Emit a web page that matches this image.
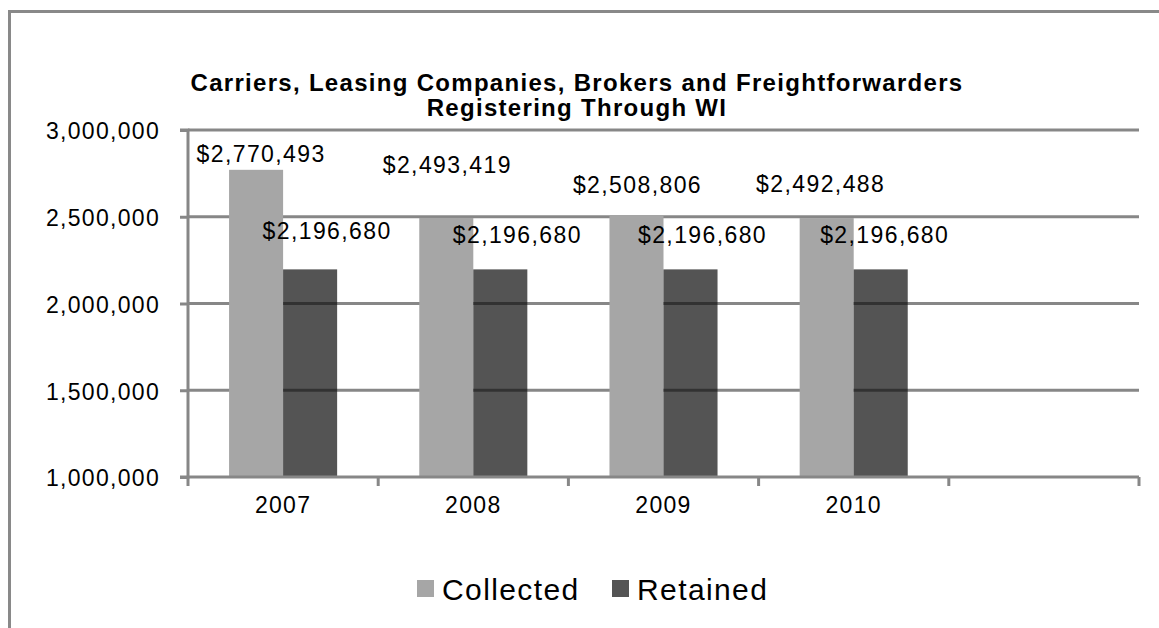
<!DOCTYPE html>
<html>
<head>
<meta charset="utf-8">
<script src="https://cdn.jsdelivr.net/npm/d3@7"></script>
<style>
  body { margin: 0; background: #fff; }
  svg { display: block; font-family: "Liberation Sans", Arial, sans-serif; }
</style>
</head>
<body>
<div id="chart"></div>
<script>
// Chart data
const categories = ["2007", "2008", "2009", "2010", ""];
const seriesNames = ["Collected", "Retained"];
const collected = [2770493, 2493419, 2508806, 2492488];
const retained = [2196680, 2196680, 2196680, 2196680];
const yTicks = [1000000, 1500000, 2000000, 2500000, 3000000];
const titleLines = [
  "Carriers, Leasing Companies, Brokers and Freightforwarders",
  "Registering Through WI",
];

// label nudges (layout only), relative to bar top center
const collectedNudge = [[5, -8], [1, -45], [1, -22], [-6, -26]];
const retainedNudge = [[17, -30], [17, -26], [12, -26], [4, -26]];

const width = 1159,
  height = 628;
const gridColor = "#878787";
const colors = { Collected: "#a6a6a6", Retained: "#121212" };
const opacity = { Collected: 1, Retained: 0.72 };

const svg = d3
  .select("#chart")
  .append("svg")
  .attr("width", width)
  .attr("height", height);

// outer frame (runs off the right and bottom edges)
svg
  .append("rect")
  .attr("x", 9.5)
  .attr("y", 11.5)
  .attr("width", 1300)
  .attr("height", 800)
  .attr("fill", "none")
  .attr("stroke", "#898989")
  .attr("stroke-width", 3);

// title
svg
  .selectAll("text.title")
  .data(titleLines)
  .enter()
  .append("text")
  .attr("class", "title")
  .attr("x", 577)
  .attr("y", (d, i) => 91 + i * 25)
  .attr("text-anchor", "middle")
  .style("font-weight", "bold")
  .style("font-size", "24px")
  .style("letter-spacing", "1.3px")
  .text((d) => d);

const plot = { left: 188, right: 1139, top: 130, bottom: 477 };

const x = d3
  .scaleBand()
  .domain(categories)
  .range([plot.left, plot.right])
  .padding(0);

const xSub = d3
  .scaleBand()
  .domain(seriesNames)
  .range([0, x.bandwidth()])
  .paddingInner(0)
  .paddingOuter(0.76);

const y = d3
  .scaleLinear()
  .domain([1000000, 3000000])
  .range([plot.bottom, plot.top]);

// gridlines
svg
  .append("g")
  .selectAll("line")
  .data(yTicks.slice(1))
  .enter()
  .append("line")
  .attr("x1", plot.left)
  .attr("x2", plot.right)
  .attr("y1", (d) => y(d))
  .attr("y2", (d) => y(d))
  .attr("stroke", gridColor)
  .attr("stroke-width", 3);

// bars
const series = [
  { name: "Collected", values: collected, nudge: collectedNudge },
  { name: "Retained", values: retained, nudge: retainedNudge },
];

series.forEach((s) => {
  svg
    .append("g")
    .selectAll("rect")
    .data(s.values)
    .enter()
    .append("rect")
    .attr("x", (d, i) => x(categories[i]) + xSub(s.name))
    .attr("y", (d) => y(d))
    .attr("width", xSub.bandwidth())
    .attr("height", (d) => y(1000000) - y(d))
    .attr("fill", colors[s.name])
    .attr("fill-opacity", opacity[s.name]);
});

// y axis
const yAxis = svg
  .append("g")
  .attr("transform", `translate(${plot.left},0)`)
  .call(
    d3
      .axisLeft(y)
      .tickValues(yTicks)
      .tickFormat(d3.format(","))
      .tickSize(8)
      .tickPadding(20)
  );
yAxis.select(".domain").attr("stroke", gridColor).attr("stroke-width", 3)
  .attr("d", `M-8,${plot.top}H0V${plot.bottom}H-8`);
yAxis.selectAll(".tick line").attr("stroke", gridColor).attr("stroke-width", 3);
yAxis
  .selectAll(".tick text")
  .attr("fill", "#000")
  .attr("dy", "0.38em")
  .style("font-size", "23px")
  .style("letter-spacing", "1.3px")
  .style("font-family", "Liberation Sans, Arial, sans-serif");

// x axis
const xAxis = svg
  .append("g")
  .attr("transform", `translate(0,${plot.bottom})`);
xAxis
  .append("line")
  .attr("x1", plot.left)
  .attr("x2", plot.right)
  .attr("stroke", gridColor)
  .attr("stroke-width", 3);
xAxis
  .selectAll("line.tick")
  .data(categories.map((c) => x(c)).concat([plot.right]))
  .enter()
  .append("line")
  .attr("class", "tick")
  .attr("x1", (d) => d)
  .attr("x2", (d) => d)
  .attr("y1", 0)
  .attr("y2", 9)
  .attr("stroke", gridColor)
  .attr("stroke-width", 3);
xAxis
  .selectAll("text")
  .data(categories)
  .enter()
  .append("text")
  .attr("x", (d) => x(d) + x.bandwidth() / 2)
  .attr("y", 36)
  .attr("text-anchor", "middle")
  .style("font-size", "23px")
  .style("letter-spacing", "1.3px")
  .text((d) => d);

// data labels
const money = d3.format("$,");
series.forEach((s) => {
  svg
    .append("g")
    .selectAll("text")
    .data(s.values)
    .enter()
    .append("text")
    .attr(
      "x",
      (d, i) =>
        x(categories[i]) + xSub(s.name) + xSub.bandwidth() / 2 + s.nudge[i][0]
    )
    .attr("y", (d, i) => y(d) + s.nudge[i][1])
    .attr("text-anchor", "middle")
    .style("font-size", "23px")
    .style("letter-spacing", "1.4px")
    .text((d) => money(d));
});

// legend
const legend = svg
  .append("g")
  .attr("transform", "translate(417,580)");
const legendX = [0, 195];
seriesNames.forEach((name, i) => {
  const item = legend.append("g").attr("transform", `translate(${legendX[i]},0)`);
  item
    .append("rect")
    .attr("width", 17)
    .attr("height", 17)
    .attr("fill", colors[name])
    .attr("fill-opacity", opacity[name]);
  item
    .append("text")
    .attr("x", 25)
    .attr("y", 20)
    .style("font-size", "30px")
    .style("letter-spacing", "1.4px")
    .text(name);
});
</script>
</body>
</html>
